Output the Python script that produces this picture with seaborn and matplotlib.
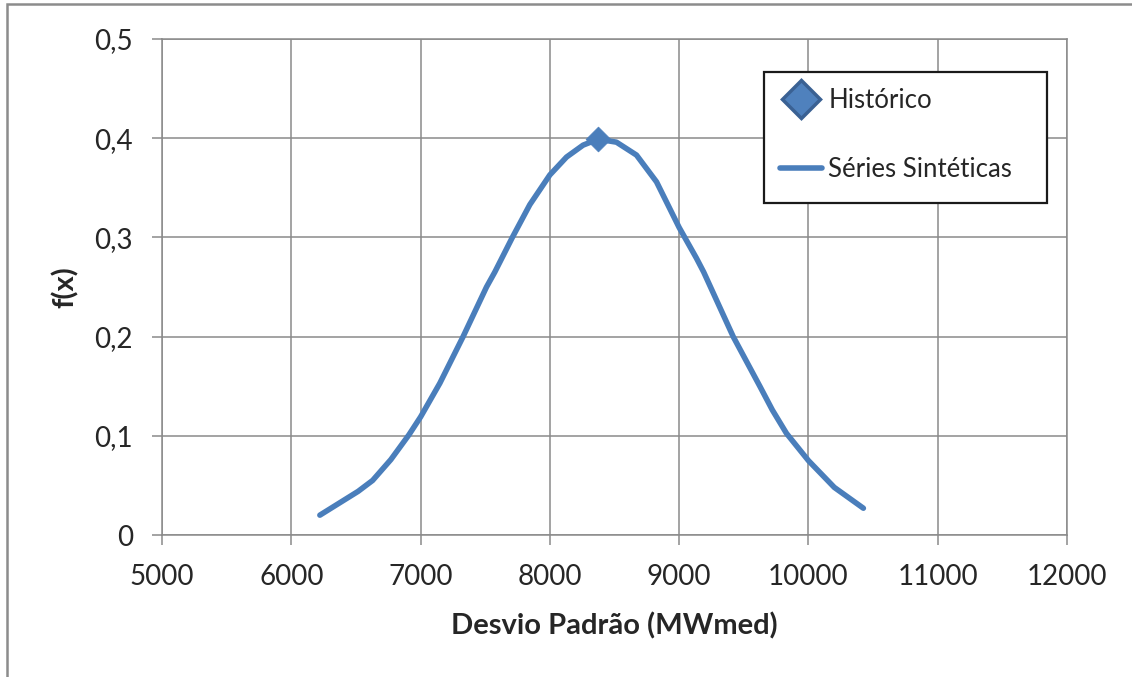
import matplotlib
matplotlib.use("Agg")
import matplotlib.pyplot as plt
from matplotlib.lines import Line2D
from matplotlib.patches import Rectangle
from matplotlib.ticker import FuncFormatter, MultipleLocator
import seaborn as sns
import pandas as pd

# Synthetic-series density curve
desvio = [6221, 6517, 6629, 6770, 6910, 7000, 7149, 7329, 7510, 7574, 7710, 7845,
          8000, 8129, 8257, 8373, 8515, 8670, 8825, 9000, 9134, 9190, 9418, 9624,
          9721, 9830, 10000, 10200, 10425]
fx = [0.020, 0.044, 0.055, 0.076, 0.101, 0.119, 0.153, 0.200, 0.250, 0.265, 0.300, 0.333,
      0.363, 0.381, 0.393, 0.399, 0.396, 0.383, 0.356, 0.310, 0.279, 0.265, 0.200, 0.150,
      0.126, 0.1025, 0.075, 0.048, 0.027]

# Historical value
hist_desvio = [8373]
hist_fx = [0.399]

series_labels = ["Histórico", "Séries Sintéticas"]
x_label = "Desvio Padrão (MWmed)"
y_label = "f(x)"

sns.set_theme(style="white")
plt.rcParams["font.family"] = ["Lato", "DejaVu Sans"]

W, H = 1132, 677
fig = plt.figure(figsize=(W / 100, H / 100), dpi=100)
ax = fig.add_axes([162 / W, 1 - 535 / H, (1067 - 162) / W, (535 - 39) / H])

blue = "#4a7ebb"
edge = "#3a6193"
grid_c = "#8a8a8a"
text_c = "#262626"

synth = pd.DataFrame({"desvio": desvio, "fx": fx})
hist = pd.DataFrame({"desvio": hist_desvio, "fx": hist_fx})

sns.lineplot(data=synth, x="desvio", y="fx", ax=ax, color=blue, lw=4.0,
             estimator=None, solid_capstyle="round", solid_joinstyle="round", zorder=3)
sns.scatterplot(data=hist, x="desvio", y="fx", ax=ax, marker="D", s=160,
                color=blue, edgecolor=blue, linewidth=0.5, zorder=4)

ax.set_xlim(5000, 12000)
ax.set_ylim(0, 0.5)
ax.xaxis.set_major_locator(MultipleLocator(1000))
ax.yaxis.set_major_locator(MultipleLocator(0.1))
ax.yaxis.set_major_formatter(FuncFormatter(
    lambda v, p: "0" if abs(v) < 1e-9 else f"{v:.1f}".replace(".", ",")))
ax.xaxis.set_major_formatter(FuncFormatter(lambda v, p: f"{int(round(v))}"))

ax.grid(True, color=grid_c, lw=1.1)
for s in ax.spines.values():
    s.set_color(grid_c)
    s.set_linewidth(1.1)
ax.tick_params(axis="both", which="major", direction="out", length=7, width=1.1,
               color=grid_c, labelsize=20, labelcolor=text_c, pad=14,
               bottom=True, left=True)

ax.set_xlabel(x_label, fontsize=21, fontweight="bold", color=text_c, labelpad=16)
ax.set_ylabel(y_label, fontsize=21, fontweight="bold", color=text_c, labelpad=11)

# Legend with square black frame
fig.patches.append(Rectangle((764 / W, 1 - 203 / H), (1047 - 764) / W, (203 - 72) / H,
                             transform=fig.transFigure, fill=True, facecolor="white",
                             edgecolor="#1a1a1a", lw=1.6, zorder=5))
handles = [
    Line2D([], [], marker="D", ls="none", markersize=19, markerfacecolor="#4f81bd",
           markeredgecolor=edge, markeredgewidth=2.5),
    Line2D([], [], color=blue, lw=4.0),
]
leg = fig.legend(handles, series_labels, loc="upper left",
                 bbox_to_anchor=(772 / W, 1 - 80 / H), bbox_transform=fig.transFigure,
                 frameon=False, fontsize=18.5, handlelength=1.65, handletextpad=0.24,
                 labelspacing=1.72, borderpad=0.3, borderaxespad=0)
leg.set_zorder(6)
for t in leg.get_texts():
    t.set_color(text_c)

# Outer chart border
fig.patches.append(Rectangle((6.5 / W, -0.05), 1.2, 1 - 3.5 / H + 0.05,
                             transform=fig.transFigure, fill=False,
                             edgecolor="#8c8c8c", lw=1.8))

fig.savefig("out.png", dpi=100)
